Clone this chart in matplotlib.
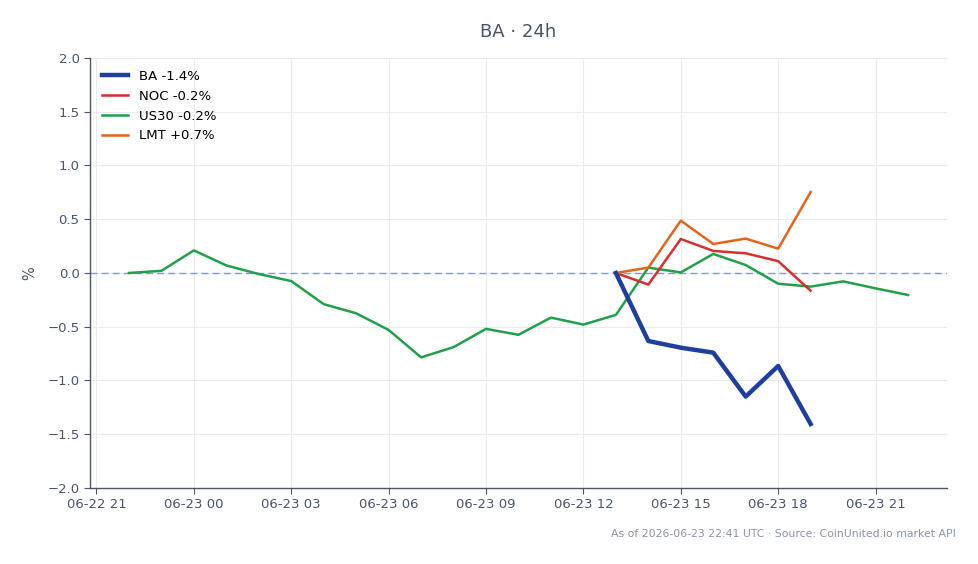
import numpy as np
import pandas as pd
import matplotlib
matplotlib.use("Agg")
from matplotlib import pyplot as plt
import matplotlib.dates as mdates

# hourly series, % change
us30_times = pd.date_range("2026-06-22 22:00", "2026-06-23 22:00", freq="h")
us30_vals = [0.0, 0.02, 0.21, 0.07, -0.01, -0.075, -0.29, -0.375, -0.53, -0.785,
             -0.69, -0.52, -0.575, -0.415, -0.48, -0.39, 0.05, 0.005, 0.177,
             0.074, -0.10, -0.127, -0.078, -0.143, -0.205]

stock_times = pd.date_range("2026-06-23 13:00", "2026-06-23 19:00", freq="h")
ba_vals = [0.0, -0.633, -0.695, -0.741, -1.15, -0.865, -1.405]
noc_vals = [0.0, -0.108, 0.316, 0.205, 0.183, 0.11, -0.165]
lmt_vals = [0.0, 0.05, 0.487, 0.27, 0.32, 0.226, 0.753]

text_color = "#4a5568"

fig = plt.figure(figsize=(9.79, 5.64), dpi=100)
ax = fig.add_axes([0.0919, 0.1348, 0.8754, 0.7624])

ax.plot(stock_times, ba_vals, color="#1f3f9f", lw=3.2, label="BA -1.4%", zorder=5)
ax.plot(stock_times, noc_vals, color="#d3302f", lw=1.8, label="NOC -0.2%", zorder=4)
ax.plot(us30_times, us30_vals, color="#21a04a", lw=1.8, label="US30 -0.2%", zorder=3)
ax.plot(stock_times, lmt_vals, color="#e3641c", lw=1.8, label="LMT +0.7%", zorder=4)
ax.axhline(0, color="#8a9bbd", lw=1.0, ls=(0, (5, 3)), zorder=2)

ax.set_ylim(-2.0, 2.0)
ax.set_yticks(np.arange(-2.0, 2.01, 0.5))
ax.set_yticklabels([f"{v:.1f}".replace("-", "\u2212") for v in np.arange(-2.0, 2.01, 0.5)])
ax.xaxis.set_major_locator(mdates.HourLocator(byhour=range(0, 24, 3)))
ax.xaxis.set_major_formatter(mdates.DateFormatter("%m-%d %H"))

ax.grid(True, color="#e8ebf0", lw=0.8)
ax.set_axisbelow(True)
for s in ["top", "right"]:
    ax.spines[s].set_visible(False)
for s in ["left", "bottom"]:
    ax.spines[s].set_color("#4a5568")
    ax.spines[s].set_linewidth(1.0)
ax.tick_params(colors=text_color, labelsize=9.5, length=4)
ax.set_ylabel("%", color=text_color, fontsize=10.5, labelpad=7)

ax.set_title("BA · 24h", color=text_color, fontsize=13, pad=15)
ax.legend(loc="upper left", frameon=False, fontsize=9.5, handlelength=2.0,
          labelspacing=0.52, borderaxespad=0.5)

fig.text(0.9765, 0.053, "As of 2026-06-23 22:41 UTC · Source: CoinUnited.io market API",
         ha="right", va="center", fontsize=7.85, color="#8a94a6")

fig.savefig("out.png", dpi=100)
